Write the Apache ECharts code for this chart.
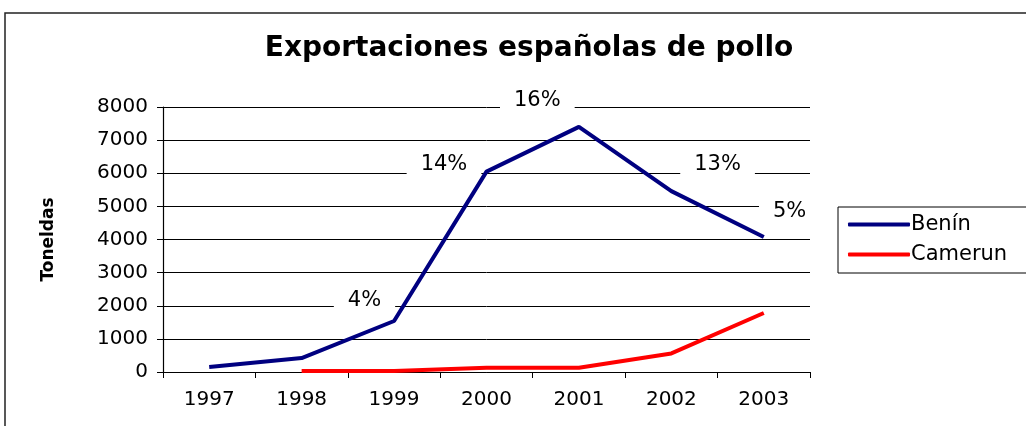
<!DOCTYPE html>
<html><head><meta charset="utf-8">
<script src="https://cdn.jsdelivr.net/npm/echarts@6/dist/echarts.min.js"></script>
<style>html,body{margin:0;padding:0;background:#fff}#c{width:1026px;height:426px}</style>
</head><body><div id="c"></div>
<script>
const years = ['1997','1998','1999','2000','2001','2002','2003'];
const benin = [150, 420, 1540, 6050, 7400, 5460, 4075];
const camerun = [null, 30, 30, 130, 130, 560, 1780];
// percentage annotations: [x position in category units, y value, text]
const notes = [[1.68, 2170, '4%'], [2.54, 6250, '14%'], [3.55, 8200, '16%'], [5.5, 6250, '13%'], [6.28, 4830, '5%']];

const chart = echarts.init(document.getElementById('c'));
const font = '"DejaVu Sans", Arial, sans-serif';
chart.setOption({
  animation: false,
  textStyle: {fontFamily: font},
  title: {text: 'Exportaciones españolas de pollo', left: 524, top: 30, textAlign: 'center',
    textStyle: {fontFamily: font, fontSize: 28, fontWeight: 'bold', color: '#000'}},
  graphic: [{type: 'rect', shape: {x: 5, y: 13, width: 1040, height: 430},
    style: {fill: 'none', stroke: '#222', lineWidth: 1.5}, z: -1}],
  legend: {orient: 'vertical', left: 838, top: 207, padding: [7, 60, 8, 10], itemGap: 9,
    borderColor: '#000', borderWidth: 1, backgroundColor: '#fff',
    icon: 'roundRect', itemWidth: 62, itemHeight: 4,
    textStyle: {fontFamily: font, fontSize: 21, color: '#000', padding: [0, 0, 0, -4]},
    data: ['Benín', 'Camerun']},
  grid: {left: 163, right: 216, top: 107, bottom: 54},
  xAxis: {type: 'category', data: years, boundaryGap: true,
    axisLine: {onZero: false, lineStyle: {color: '#000', width: 1}},
    axisTick: {show: true, length: 6, lineStyle: {color: '#000'}},
    axisLabel: {fontFamily: font, fontSize: 20, color: '#000', margin: 18}},
  yAxis: {type: 'value', min: 0, max: 8000, interval: 1000, position: 'left',
    name: 'Toneldas', nameLocation: 'middle', nameRotate: 90, nameGap: 106,
    nameTextStyle: {fontFamily: font, fontSize: 17, fontWeight: 'bold', color: '#000'},
    axisLine: {show: true, onZero: false, lineStyle: {color: '#000', width: 1.2}},
    axisTick: {show: true, length: 6, lineStyle: {color: '#000'}},
    axisLabel: {fontFamily: font, fontSize: 20, color: '#000', margin: 15, formatter: v => String(v)},
    splitLine: {lineStyle: {color: '#000', width: 1}}},
  series: [
    {name: 'Benín', type: 'line', data: benin, symbol: 'none',
      lineStyle: {color: '#000080', width: 4}, itemStyle: {color: '#000080'}},
    {name: 'Camerun', type: 'line', data: camerun, symbol: 'none',
      lineStyle: {color: '#ff0000', width: 4}, itemStyle: {color: '#ff0000'}},
    {name: 'notes', type: 'custom', clip: false, z: 1, silent: true,
      data: notes,
      renderItem: function (params, api) {
        const base = api.coord([0, api.value(1)]);
        const band = api.size([1, 0])[0];
        const x = base[0] + api.value(0) * band;
        return {type: 'text', x: x, y: base[1],
          style: {text: notes[params.dataIndex][2], fill: '#000', font: '21px ' + font,
            align: 'center', verticalAlign: 'middle', backgroundColor: '#fff', padding: [3, 14]}};
      }}
  ]
});
</script></body></html>
